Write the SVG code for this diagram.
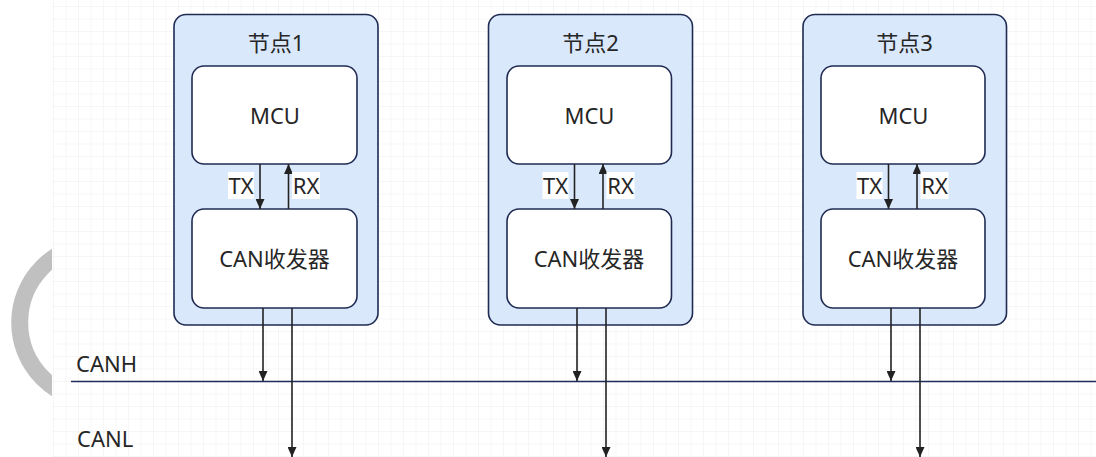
<svg xmlns="http://www.w3.org/2000/svg" width="1096" height="457" viewBox="0 0 1096 457">
  <defs>
    <pattern id="grid" x="3" y="6" width="12.5" height="12.5" patternUnits="userSpaceOnUse">
      <path d="M0,0 V12.5 M0,0 H12.5" fill="none" stroke="#eeeeee" stroke-width="1"/>
    </pattern>
    <clipPath id="leftStrip">
      <rect x="0" y="0" width="52" height="457"/>
    </clipPath>
    <marker id="arrow" viewBox="0 0 10 9" refX="10" refY="4.5" markerWidth="10" markerHeight="9" markerUnits="userSpaceOnUse" orient="auto">
      <path d="M0,0 L10,4.5 L0,9 Z" fill="#222"/>
    </marker>
    <style>
      .txt { font-family: "Noto Sans", "Open Sans", "Noto Sans CJK SC", sans-serif; font-size: 22px; fill: #262626; text-anchor: middle; }
      .left { text-anchor: start; }
      .frame { fill: #dae8fc; stroke: #1f2b52; stroke-width: 1.6; }
      .box { fill: #ffffff; stroke: #1f2b52; stroke-width: 1.6; }
      .wire { fill: none; stroke: #222; stroke-width: 1.6; }
      .bus { fill: none; stroke: #1f2b5a; stroke-width: 1.6; }
      .tag { fill: #ffffff; }
    </style>
  </defs>

  <!-- canvas -->
  <rect x="0" y="0" width="1096" height="457" fill="#ffffff"/>
  <rect x="52" y="0" width="1044" height="457" fill="url(#grid)"/>

  <!-- grey ring, only its left part shows -->
  <circle cx="98.3" cy="322.5" r="78.6" fill="none" stroke="#c0c0c0" stroke-width="17" clip-path="url(#leftStrip)"/>

  <!-- node 1 -->
  <g id="node1">
    <rect class="frame" x="174" y="14.5" width="204" height="310.5" rx="12"/>
    <text class="txt" x="276" y="51">节点1</text>
    <rect class="box" x="192" y="66" width="165" height="98" rx="12"/>
    <text class="txt" x="275" y="123.5">MCU</text>
    <rect class="box" x="192" y="209" width="165" height="99" rx="12"/>
    <text class="txt" x="274.5" y="267">CAN收发器</text>
  </g>

  <!-- node 2 -->
  <g id="node2">
    <rect class="frame" x="488.5" y="14.5" width="204" height="310.5" rx="12"/>
    <text class="txt" x="590.5" y="51">节点2</text>
    <rect class="box" x="507" y="66" width="164.5" height="98" rx="12"/>
    <text class="txt" x="589.5" y="123.5">MCU</text>
    <rect class="box" x="507" y="209" width="164.5" height="99" rx="12"/>
    <text class="txt" x="589" y="267">CAN收发器</text>
  </g>

  <!-- node 3 -->
  <g id="node3">
    <rect class="frame" x="803" y="14.5" width="203.5" height="310.5" rx="12"/>
    <text class="txt" x="904.5" y="51">节点3</text>
    <rect class="box" x="821" y="66" width="164" height="98" rx="12"/>
    <text class="txt" x="903.5" y="123.5">MCU</text>
    <rect class="box" x="821" y="209" width="164" height="99" rx="12"/>
    <text class="txt" x="903" y="267">CAN收发器</text>
  </g>

  <!-- bus labels -->
  <g id="bus-labels">
    <text class="txt left" x="76" y="372">CANH</text>
    <text class="txt left" x="77" y="447">CANL</text>
  </g>

  <!-- connectors -->
  <g id="connectors">
    <!-- CANH bus line -->
    <line class="bus" x1="71" y1="381.5" x2="1096" y2="381.5"/>

    <!-- node 1: TX / RX between MCU and transceiver -->
    <line class="wire" x1="260" y1="164" x2="260" y2="209" marker-end="url(#arrow)"/>
    <line class="wire" x1="288.5" y1="209" x2="288.5" y2="164" marker-end="url(#arrow)"/>
    <rect class="tag" x="228" y="172" width="26" height="27"/>
    <text class="txt" x="241" y="194">TX</text>
    <rect class="tag" x="292" y="172" width="28" height="27"/>
    <text class="txt" x="306" y="194">RX</text>
    <!-- node 1: transceiver to bus -->
    <line class="wire" x1="263" y1="308" x2="263" y2="381" marker-end="url(#arrow)"/>
    <line class="wire" x1="292" y1="308" x2="292" y2="457" marker-end="url(#arrow)"/>

    <!-- node 2 -->
    <line class="wire" x1="574.5" y1="164" x2="574.5" y2="209" marker-end="url(#arrow)"/>
    <line class="wire" x1="603" y1="209" x2="603" y2="164" marker-end="url(#arrow)"/>
    <rect class="tag" x="542.5" y="172" width="26" height="27"/>
    <text class="txt" x="555.5" y="194">TX</text>
    <rect class="tag" x="606.5" y="172" width="28" height="27"/>
    <text class="txt" x="620.5" y="194">RX</text>
    <line class="wire" x1="577" y1="308" x2="577" y2="381" marker-end="url(#arrow)"/>
    <line class="wire" x1="606" y1="308" x2="606" y2="457" marker-end="url(#arrow)"/>

    <!-- node 3 -->
    <line class="wire" x1="888.5" y1="164" x2="888.5" y2="209" marker-end="url(#arrow)"/>
    <line class="wire" x1="917" y1="209" x2="917" y2="164" marker-end="url(#arrow)"/>
    <rect class="tag" x="856.5" y="172" width="26" height="27"/>
    <text class="txt" x="869.5" y="194">TX</text>
    <rect class="tag" x="920.5" y="172" width="28" height="27"/>
    <text class="txt" x="934.5" y="194">RX</text>
    <line class="wire" x1="891" y1="308" x2="891" y2="381" marker-end="url(#arrow)"/>
    <line class="wire" x1="920" y1="308" x2="920" y2="457" marker-end="url(#arrow)"/>
  </g>
</svg>
